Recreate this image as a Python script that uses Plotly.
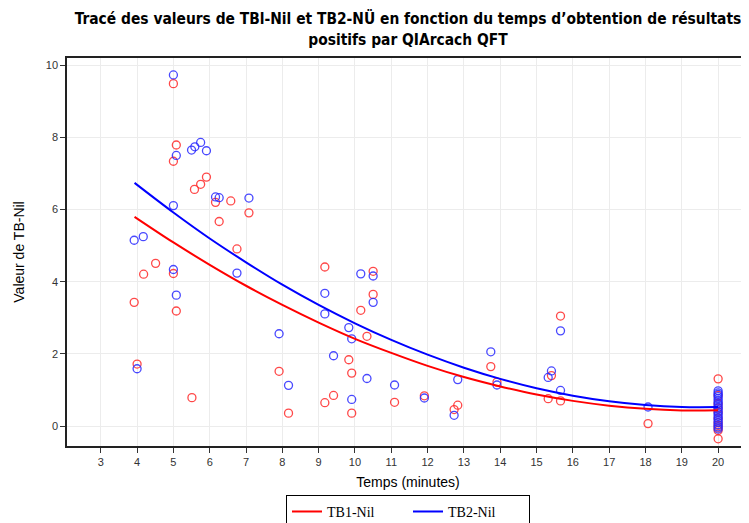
import plotly.graph_objects as go

# TB1-Nil observed values
tb1_time = [3.92, 4.0, 4.18, 4.51, 5.0, 5.0, 5.0, 5.08, 5.08, 5.51, 5.58, 5.75, 5.91,
            6.16, 6.26, 6.58, 6.75, 7.08, 7.91, 8.17, 9.17, 9.17, 9.41, 9.83, 9.91,
            9.91, 10.16, 10.33, 10.5, 10.5, 11.09, 11.91, 12.73, 12.83, 13.74, 13.91,
            15.32, 15.41, 15.66, 15.66, 18.07,
            20, 20, 20, 20, 20, 20, 20, 20, 20, 20, 20]
tb1_value = [3.43, 1.72, 4.21, 4.51, 9.49, 7.34, 4.23, 7.79, 3.19, 0.79, 6.56, 6.70, 6.90,
             6.20, 5.67, 6.24, 4.91, 5.91, 1.52, 0.36, 4.41, 0.65, 0.85, 1.84, 1.47,
             0.36, 3.21, 2.49, 4.29, 3.65, 0.66, 0.84, 0.46, 0.58, 1.65, 1.22,
             0.76, 1.40, 3.05, 0.70, 0.07,
             1.31, 0.85, 0.62, 0.50, 0.38, 0.22, 0.10, 0.02, -0.05, -0.12, -0.35]

# TB2-Nil observed values
tb2_time = [3.92, 4.0, 4.17, 5.0, 5.0, 5.0, 5.08, 5.08, 5.5, 5.59, 5.75, 5.91, 6.16,
            6.26, 6.75, 7.08, 7.91, 8.17, 9.17, 9.17, 9.41, 9.83, 9.91, 9.91, 10.16,
            10.33, 10.5, 10.5, 11.09, 11.91, 12.73, 12.83, 13.74, 13.91, 15.32, 15.41,
            15.66, 15.66, 18.07,
            20, 20, 20, 20, 20, 20, 20, 20, 20, 20, 20, 20, 20, 20, 20, 20, 20, 20, 20]
tb2_value = [5.15, 1.59, 5.25, 9.73, 6.11, 4.34, 7.50, 3.63, 7.65, 7.74, 7.86, 7.63, 6.35,
             6.33, 4.24, 6.32, 2.56, 1.13, 3.68, 3.11, 1.95, 2.73, 2.42, 0.74, 4.22,
             1.32, 4.16, 3.43, 1.14, 0.78, 0.30, 1.29, 2.06, 1.14, 1.35, 1.53,
             2.64, 0.99, 0.53,
             0.98, 0.92, 0.88, 0.82, 0.76, 0.70, 0.64, 0.58, 0.52, 0.46, 0.40, 0.34,
             0.28, 0.22, 0.16, 0.10, 0.04, -0.02, -0.08]

# Fitted curves
fit_time = [3.93, 5, 6, 7, 8, 9, 10, 11, 12, 13, 14, 15, 16, 17, 18, 19, 20]
fit_tb1 = [5.80, 5.09, 4.47, 3.89, 3.36, 2.87, 2.42, 2.03, 1.67, 1.36, 1.10, 0.875,
           0.70, 0.567, 0.48, 0.437, 0.44]
fit_tb2 = [6.74, 5.92, 5.20, 4.54, 3.92, 3.36, 2.85, 2.39, 1.98, 1.62, 1.31, 1.05,
           0.845, 0.69, 0.586, 0.532, 0.53]

x_ticks = list(range(3, 21))
y_ticks = [0, 2, 4, 6, 8, 10]

RED = "rgb(255,0,0)"
BLUE = "rgb(0,0,255)"

fig = go.Figure()
fig.add_trace(go.Scatter(x=tb1_time, y=tb1_value, mode="markers", showlegend=False,
                         marker=dict(symbol="circle-open", size=8, color="rgba(255,40,40,0.85)",
                                     line=dict(width=1.3))))
fig.add_trace(go.Scatter(x=tb2_time, y=tb2_value, mode="markers", showlegend=False,
                         marker=dict(symbol="circle-open", size=8, color="rgba(40,40,255,0.85)",
                                     line=dict(width=1.3))))
fig.add_trace(go.Scatter(x=fit_time, y=fit_tb1, mode="lines", name="TB1-Nil",
                         line=dict(color=RED, width=2, shape="spline")))
fig.add_trace(go.Scatter(x=fit_time, y=fit_tb2, mode="lines", name="TB2-Nil",
                         line=dict(color=BLUE, width=2, shape="spline")))

fig.update_layout(
    width=741, height=515,
    margin=dict(l=59, r=0, t=50, b=77, autoexpand=False),
    paper_bgcolor="white", plot_bgcolor="white",
    title=dict(text="Tracé des valeurs de TBl-Nil et TB2-NÜ en fonction du temps d’obtention de résultats<br>positifs par QIArcach QFT",
               x=0.5, xref="paper", xanchor="center", yref="container", y=0.968, yanchor="top",
               font=dict(family="DejaVu Sans Condensed, Liberation Sans, sans-serif",
                         size=15.4, color="black", weight="bold")),
    xaxis=dict(range=[2.07, 20.85], tickvals=x_ticks, ticks="outside", ticklen=5,
               tickcolor="#333", showline=True, linecolor="#222", linewidth=1.5, mirror=True,
               showgrid=True, gridcolor="#ececec", gridwidth=1, zeroline=False, automargin=False,
               tickfont=dict(family="Liberation Sans, Arial, sans-serif", size=11, color="#333"),
               title=dict(text="Temps (minutes)", standoff=10,
                          font=dict(family="Liberation Sans, Arial, sans-serif", size=14, color="black"))),
    yaxis=dict(range=[-0.55, 10.2], tickvals=y_ticks, ticks="outside", ticklen=5,
               tickcolor="#333", showline=True, linecolor="#222", linewidth=1.5,
               showgrid=True, gridcolor="#ececec", gridwidth=1, zeroline=False, automargin=False,
               tickfont=dict(family="Liberation Sans, Arial, sans-serif", size=11, color="#333"),
               title=dict(text="Valeur de TB-Nil", standoff=18,
                          font=dict(family="Liberation Sans, Arial, sans-serif", size=14, color="black"))),
    legend=dict(orientation="h", x=0.5, xanchor="center", y=-0.126, yanchor="top",
                bordercolor="black", borderwidth=1, bgcolor="white",
                font=dict(family="Liberation Serif, Times New Roman, serif", size=14, color="black"),
                entrywidth=76, entrywidthmode="pixels", tracegroupgap=0),
)

fig.write_html("out.html")
